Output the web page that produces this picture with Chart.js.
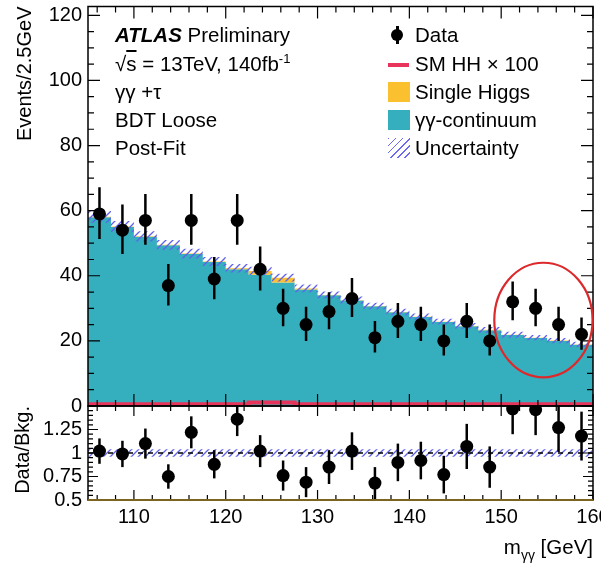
<!DOCTYPE html>
<html lang="en">
<head>
  <meta charset="UTF-8" />
  <title>ATLAS Preliminary – γγ+τ, BDT Loose, post-fit</title>
  <script src="https://cdn.jsdelivr.net/npm/chart.js"></script>
  <style>
    body { margin: 0; background: #fff; }
    #wrap {
      position: relative;
      width: 601px;
      height: 565px;
      font-family: 'Liberation Sans', Arial, sans-serif;
      color: #000;
    }
    #wrap canvas { position: absolute; left: 0; top: 0; }
    .txt {
      position: absolute;
      font-size: 20.5px;
      line-height: 20px;
      white-space: nowrap;
      z-index: 5;
    }
    .sym { position: absolute; z-index: 5; }
    .over { text-decoration: overline; }
    sup { font-size: 13px; vertical-align: 8px; line-height: 0; }
    sub { font-size: 14px; vertical-align: -6px; line-height: 0; }
  </style>
</head>
<body>
  <div id="wrap">
    <canvas id="mainChart" width="601" height="565"></canvas>
    <canvas id="ratioChart" width="601" height="565"></canvas>

    <!-- texte ATLAS -->
    <div class="txt" style="left:115px; top:25px;"><b><i>ATLAS</i></b> Preliminary</div>
    <div class="txt" style="left:115px; top:53.5px;">√<span class="over">s</span> = 13TeV, 140fb<sup>-1</sup></div>
    <div class="txt" style="left:115px; top:82px;">γγ +τ</div>
    <div class="txt" style="left:115px; top:110px;">BDT Loose</div>
    <div class="txt" style="left:115px; top:138px;">Post-Fit</div>

    <!-- legende -->
    <div class="sym" style="left:396px; top:26px; width:2.5px; height:18px; background:#000;"></div>
    <div class="sym" style="left:391px; top:29px; width:12px; height:12px; border-radius:50%; background:#000;"></div>
    <div class="txt" style="left:415px; top:25px;">Data</div>
    <div class="sym" style="left:388px; top:63px; width:21px; height:3.5px; background:#e8345a;"></div>
    <div class="txt" style="left:415px; top:53.5px;">SM HH × 100</div>
    <div class="sym" style="left:388px; top:82px; width:22px; height:20px; background:#fbc02f;"></div>
    <div class="txt" style="left:415px; top:82px;">Single Higgs</div>
    <div class="sym" style="left:388px; top:110px; width:22px; height:20px; background:#35afbe;"></div>
    <div class="txt" style="left:415px; top:110px;">γγ-continuum</div>
    <div class="sym" style="left:388px; top:138px; width:22px; height:20px;
         background: repeating-linear-gradient(135deg, #6a6af0 0 1.3px, transparent 1.3px 5px);"></div>
    <div class="txt" style="left:415px; top:138px;">Uncertainty</div>

    <!-- titre axe x -->
    <div class="txt" style="right:8px; top:537px;">m<sub>γγ</sub> [GeV]</div>
  </div>

  <script>
    // bins de 2.5 GeV entre 105 et 160
    const binEdges = [105, 107.5, 110, 112.5, 115, 117.5, 120, 122.5, 125, 127.5, 130, 132.5,
                      135, 137.5, 140, 142.5, 145, 147.5, 150, 152.5, 155, 157.5, 160];
    const binCenters = [106.25, 108.75, 111.25, 113.75, 116.25, 118.75, 121.25, 123.75, 126.25, 128.75, 131.25,
                        133.75, 136.25, 138.75, 141.25, 143.75, 146.25, 148.75, 151.25, 153.75, 156.25, 158.75];

    const dataCounts  = [59, 54, 57, 37, 57, 39, 57, 42, 30, 25, 29, 33, 21, 26, 25, 20, 26, 20, 32, 30, 25, 22];
    const dataErrUp   = [8.2, 7.9, 8.1, 6.6, 8.1, 6.8, 8.1, 7.0, 6.0, 5.5, 5.9, 6.3, 5.1, 5.6, 5.5, 5.0, 5.6, 5.0, 6.2, 6.0, 5.5, 5.2];
    const dataErrDown = [7.7, 7.3, 7.5, 6.1, 7.5, 6.2, 7.5, 6.5, 5.5, 5.0, 5.4, 5.7, 4.6, 5.1, 5.0, 4.5, 5.1, 4.5, 5.7, 5.5, 5.0, 4.7];

    const continuum   = [58, 55, 52, 49.4, 46.7, 44.2, 42, 40.3, 37.9, 35.8, 34, 32.4, 30.6, 28.8, 27.3, 25.8,
                         24.5, 23.3, 21.8, 20.9, 20, 18.8];
    const singleHiggs = [0.1, 0.1, 0.1, 0.1, 0.1, 0.2, 0.3, 1.2, 1.5, 0.3, 0.1, 0.1, 0.1, 0.1, 0.1, 0.1,
                         0.1, 0.1, 0.1, 0.1, 0.1, 0.1];
    const smHHx100    = [0.5, 0.5, 0.5, 0.5, 0.5, 0.5, 0.5, 1.1, 1.1, 0.5, 0.5, 0.5, 0.5, 0.5, 0.5, 0.5,
                         0.5, 0.5, 0.5, 0.5, 0.5, 0.5];
    const bkgUnc      = [1.8, 1.7, 1.6, 1.5, 1.5, 1.4, 1.3, 1.3, 1.2, 1.2, 1.1, 1.1, 1.0, 1.0, 1.0, 0.9,
                         0.9, 0.9, 0.9, 0.8, 0.8, 0.8];

    const ratioValues = [1.02, 0.99, 1.10, 0.75, 1.22, 0.88, 1.36, 1.02, 0.76, 0.69, 0.85, 1.02, 0.68, 0.90,
                         0.92, 0.77, 1.07, 0.85, 1.47, 1.46, 1.27, 1.18];
    const ratioErr    = [0.135, 0.14, 0.16, 0.13, 0.17, 0.15, 0.18, 0.17, 0.16, 0.16, 0.18, 0.20, 0.17, 0.20,
                         0.20, 0.20, 0.24, 0.22, 0.27, 0.27, 0.26, 0.26];
    const ratioUnc    = [0.04, 0.04, 0.04, 0.04, 0.04, 0.04, 0.04, 0.04, 0.04, 0.04, 0.04, 0.04, 0.04, 0.04,
                         0.04, 0.04, 0.04, 0.04, 0.04, 0.04, 0.04, 0.04];

    // zone entouree en rouge (unites des axes)
    const highlight = { x: 154.6, y: 26.4, rx: 5.35, ry: 17.6 };

    const FONT = "'Liberation Sans', Arial, sans-serif";
    const TEAL = '#35afbe';
    const YELLOW = '#fbc02f';
    const RED = '#e8345a';

    // motif hachure bleu
    function makeHatch() {
      const tile = document.createElement('canvas');
      tile.width = 7; tile.height = 7;
      const t = tile.getContext('2d');
      t.strokeStyle = '#6060ee';
      t.lineWidth = 1.3;
      t.beginPath();
      t.moveTo(0, 7); t.lineTo(7, 0);
      t.moveTo(-1, 1); t.lineTo(1, -1);
      t.moveTo(6, 8); t.lineTo(8, 6);
      t.stroke();
      return t.createPattern(tile, 'repeat');
    }
    const hatch = makeHatch();

    // histogramme -> points aux bords des bins
    function histPoints(vals) {
      const pts = [];
      vals.forEach((v, i) => {
        pts.push({ x: binEdges[i], y: v });
        pts.push({ x: binEdges[i + 1], y: v });
      });
      return pts;
    }
    const total = continuum.map((v, i) => v + singleHiggs[i]);

    // cadre + graduations vers l'interieur (style ROOT)
    const frame = {
      id: 'frame',
      afterDraw(chart, args, o) {
        const { ctx, chartArea: a, scales: { x, y } } = chart;
        ctx.save();
        ctx.strokeStyle = '#000';
        ctx.lineWidth = 1.2;
        const steps = (min, max, step) => {
          const out = [];
          const n0 = Math.ceil(min / step - 1e-6), n1 = Math.floor(max / step + 1e-6);
          for (let n = n0; n <= n1; n++) out.push(n * step);
          return out;
        };
        ctx.beginPath();
        steps(x.min, x.max, o.xMinor).forEach(v => {
          const major = Math.abs(v / o.xMajor - Math.round(v / o.xMajor)) < 1e-6;
          const len = major ? o.xLen : o.xLen / 2;
          const px = x.getPixelForValue(v);
          ctx.moveTo(px, a.bottom); ctx.lineTo(px, a.bottom - len);
          ctx.moveTo(px, a.top); ctx.lineTo(px, a.top + len);
        });
        steps(y.min, y.max, o.yMinor).forEach(v => {
          const major = Math.abs(v / o.yMajor - Math.round(v / o.yMajor)) < 1e-6;
          const len = major ? o.yLen : o.yLen / 2;
          const py = y.getPixelForValue(v);
          ctx.moveTo(a.left, py); ctx.lineTo(a.left + len, py);
          ctx.moveTo(a.right, py); ctx.lineTo(a.right - len, py);
        });
        ctx.stroke();
        ctx.lineWidth = 1.5;
        ctx.strokeRect(a.left, a.top, a.right - a.left, a.bottom - a.top);
        if (o.bottomColor) {
          ctx.strokeStyle = o.bottomColor;
          ctx.lineWidth = 2;
          ctx.beginPath();
          ctx.moveTo(a.left, a.bottom); ctx.lineTo(a.right, a.bottom);
          ctx.stroke();
        }
        ctx.restore();
      }
    };

    // barres d'erreur des donnees
    const errorBars = {
      id: 'errorBars',
      afterDatasetsDraw(chart) {
        const { ctx, chartArea: a, scales: { x, y } } = chart;
        ctx.save();
        ctx.beginPath();
        ctx.rect(a.left, a.top, a.right - a.left, a.bottom - a.top);
        ctx.clip();
        ctx.strokeStyle = '#000';
        ctx.lineWidth = 2.5;
        chart.data.datasets.forEach(ds => {
          if (!ds.errUp) return;
          ds.data.forEach((p, i) => {
            const px = x.getPixelForValue(p.x);
            ctx.beginPath();
            ctx.moveTo(px, y.getPixelForValue(p.y + ds.errUp[i]));
            ctx.lineTo(px, y.getPixelForValue(p.y - ds.errDown[i]));
            ctx.stroke();
          });
        });
        ctx.restore();
      }
    };

    // ellipse rouge
    const ellipse = {
      id: 'ellipse',
      afterDraw(chart) {
        const { ctx, scales: { x, y } } = chart;
        const cx = x.getPixelForValue(highlight.x);
        const cy = y.getPixelForValue(highlight.y);
        const rx = Math.abs(x.getPixelForValue(highlight.x + highlight.rx) - cx);
        const ry = Math.abs(y.getPixelForValue(highlight.y + highlight.ry) - cy);
        ctx.save();
        ctx.strokeStyle = '#dc2a2c';
        ctx.lineWidth = 2.2;
        ctx.beginPath();
        ctx.ellipse(cx, cy, rx, ry, 0, 0, Math.PI * 2);
        ctx.stroke();
        ctx.restore();
      }
    };

    const fixAxis = (w, h) => (s) => {
      if (w !== undefined) s.width = w;
      if (h !== undefined) s.height = h;
      s.paddingLeft = 0; s.paddingRight = 0; s.paddingTop = 0; s.paddingBottom = 0;
    };

    const histLine = (vals, extra) => Object.assign({
      data: histPoints(vals),
      borderColor: 'rgba(0,0,0,0)',
      borderWidth: 0,
      pointRadius: 0,
      fill: false
    }, extra);

    // panneau principal
    new Chart(document.getElementById('mainChart'), {
      type: 'line',
      data: {
        datasets: [
          {
            data: binCenters.map((x, i) => ({ x, y: dataCounts[i] })),
            errUp: dataErrUp,
            errDown: dataErrDown,
            showLine: false,
            pointRadius: 6.5,
            pointBorderWidth: 0,
            pointBackgroundColor: '#000',
            order: 0
          },
          histLine(smHHx100, { borderColor: RED, borderWidth: 4, order: 1 }),
          histLine(total.map((v, i) => v + bkgUnc[i]), { fill: '+1', backgroundColor: hatch, order: 2 }),
          histLine(total.map((v, i) => v - bkgUnc[i]), { order: 3 }),
          histLine(total, { fill: '+1', backgroundColor: YELLOW, order: 4 }),
          histLine(continuum, { fill: 'origin', backgroundColor: TEAL, order: 5 })
        ]
      },
      options: {
        responsive: false,
        animation: false,
        events: [],
        layout: { padding: { left: 0, top: 4, right: 8, bottom: 159 } },
        scales: {
          x: { type: 'linear', min: 105, max: 160, display: false },
          y: {
            min: 0, max: 122.7,
            grid: { display: false, drawTicks: false },
            border: { display: false },
            ticks: { stepSize: 20, includeBounds: false, autoSkip: false, color: '#000', padding: 6, font: { family: FONT, size: 20 } },
            title: {
              display: true, text: 'Events/2.5GeV', align: 'end', color: '#000',
              font: { family: FONT, size: 20 }, padding: { top: 13, bottom: 0 }
            },
            afterFit: fixAxis(88)
          }
        },
        plugins: {
          legend: { display: false },
          tooltip: { enabled: false },
          frame: { xMinor: 2, xMajor: 10, xLen: 12, yMinor: 5, yMajor: 20, yLen: 12 }
        }
      },
      plugins: [frame, errorBars, ellipse]
    });

    // panneau du rapport
    new Chart(document.getElementById('ratioChart'), {
      type: 'line',
      data: {
        datasets: [
          {
            data: binCenters.map((x, i) => ({ x, y: ratioValues[i] })),
            errUp: ratioErr,
            errDown: ratioErr,
            showLine: false,
            pointRadius: 6.5,
            pointBorderWidth: 0,
            pointBackgroundColor: '#000',
            clip: { left: 10, top: 0, right: 10, bottom: 10 },
            order: 0
          },
          {
            data: [{ x: 105, y: 1 }, { x: 160, y: 1 }],
            borderColor: '#000', borderWidth: 1.5, borderDash: [5, 5],
            pointRadius: 0, fill: false, order: 1
          },
          histLine(ratioUnc.map(u => 1 + u), { fill: '+1', backgroundColor: hatch, order: 2 }),
          histLine(ratioUnc.map(u => 1 - u), { order: 3 })
        ]
      },
      options: {
        responsive: false,
        animation: false,
        events: [],
        layout: { padding: { left: 0, top: 406, right: 8, bottom: 0 } },
        scales: {
          x: {
            type: 'linear', min: 105, max: 160,
            grid: { display: false, drawTicks: false },
            border: { display: false },
            ticks: { stepSize: 10, includeBounds: false, autoSkip: false, color: '#000', padding: 5, maxRotation: 0, font: { family: FONT, size: 20 } },
            afterFit: fixAxis(undefined, 65)
          },
          y: {
            min: 0.5, max: 1.5,
            grid: { display: false, drawTicks: false },
            border: { display: false },
            ticks: {
              stepSize: 0.25, includeBounds: false, autoSkip: false, color: '#000', padding: 6, font: { family: FONT, size: 20 },
              callback: (v) => (v > 1.4 ? '' : String(v))
            },
            title: {
              display: true, text: 'Data/Bkg.', align: 'end', color: '#000',
              font: { family: FONT, size: 20 }, padding: { top: 11, bottom: 0 }
            },
            afterFit: fixAxis(88)
          }
        },
        plugins: {
          legend: { display: false },
          tooltip: { enabled: false },
          frame: { xMinor: 2, xMajor: 10, xLen: 10, yMinor: 0.05, yMajor: 0.25, yLen: 10, bottomColor: '#7a6420' }
        }
      },
      plugins: [frame, errorBars]
    });
  </script>
</body>
</html>
